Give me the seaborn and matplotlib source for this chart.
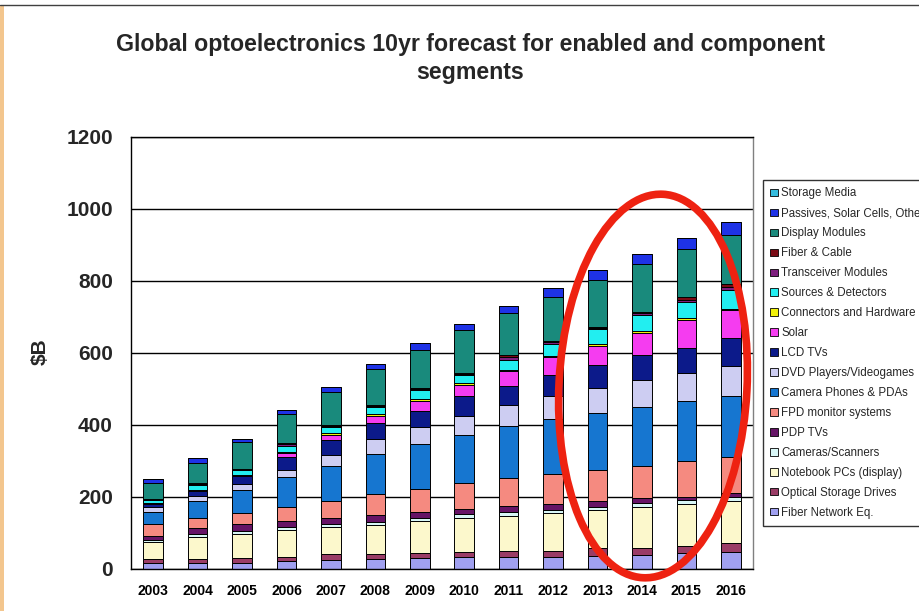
import pandas as pd
import numpy as np
import matplotlib
matplotlib.use("Agg")
import matplotlib.pyplot as plt
import seaborn as sns
from matplotlib.patches import Patch, Ellipse, Rectangle
from matplotlib.lines import Line2D

# ---- data ($B) ----
years = [str(y) for y in range(2003, 2017)]

storage_media       = [0, 0, 0, 0, 0, 0, 0, 0, 0, 0, 0, 0, 0, 0]
passives_other      = [10, 12, 7, 13, 14, 14, 18, 18, 19, 23, 26, 28, 30, 36]
display_modules     = [45, 56, 76, 81, 92, 100, 105, 118, 115, 123, 132, 134, 134, 135]
fiber_cable         = [1, 3, 1, 3, 2, 3, 3, 3, 7, 4, 3, 4, 7, 8]
transceiver_modules = [2, 3, 2, 3, 3, 3, 4, 3, 7, 5, 3, 5, 7, 9]
sources_detectors   = [7, 14, 14, 17, 18, 20, 26, 23, 28, 32, 40, 44, 45, 54]
connectors_hardware = [2, 1, 1, 4, 4, 4, 4, 5, 4, 3, 5, 5, 4, 3]
solar               = [2, 1, 1, 12, 16, 21, 28, 31, 42, 52, 55, 62, 79, 77]
lcd_tvs             = [9, 15, 24, 35, 40, 43, 44, 54, 53, 58, 62, 70, 68, 79]
dvd_videogames      = [12, 14, 15, 20, 30, 42, 48, 54, 58, 62, 70, 74, 78, 81]
camera_phones_pdas  = [34, 46, 64, 83, 99, 112, 126, 134, 145, 155, 158, 165, 167, 172]
fpd_monitors        = [33, 29, 31, 40, 46, 57, 62, 71, 78, 82, 88, 90, 100, 100]
pdp_tvs             = [11, 16, 21, 16, 17, 20, 18, 14, 15, 16, 16, 14, 9, 9]
cameras_scanners    = [7, 9, 8, 9, 9, 8, 9, 12, 11, 10, 9, 11, 12, 12]
notebook_pcs        = [46, 60, 66, 74, 76, 83, 88, 95, 99, 105, 106, 112, 116, 116]
optical_storage     = [11, 11, 13, 10, 14, 12, 14, 14, 17, 18, 21, 20, 21, 27]
fiber_network_eq    = [16, 16, 16, 22, 25, 27, 29, 31, 31, 31, 35, 38, 42, 45]

# legend order, top of the stack first
segments = [
    "Storage Media", "Passives, Solar Cells, Other", "Display Modules",
    "Fiber & Cable", "Transceiver Modules", "Sources & Detectors",
    "Connectors and Hardware", "Solar", "LCD TVs", "DVD Players/Videogames",
    "Camera Phones & PDAs", "FPD monitor systems", "PDP TVs",
    "Cameras/Scanners", "Notebook PCs (display)", "Optical Storage Drives",
    "Fiber Network Eq.",
]
series = [
    storage_media, passives_other, display_modules, fiber_cable,
    transceiver_modules, sources_detectors, connectors_hardware, solar,
    lcd_tvs, dvd_videogames, camera_phones_pdas, fpd_monitors, pdp_tvs,
    cameras_scanners, notebook_pcs, optical_storage, fiber_network_eq,
]
colors = [
    "#33BBDD", "#1E32E6", "#198A7C", "#7A0A14", "#7E1E7E", "#22EEF0",
    "#F2F20A", "#F53CF0", "#0C1A8A", "#CDCDF2", "#1676D0", "#F58A80",
    "#661466", "#D8F6F6", "#FCF8CC", "#9A3C66", "#A0A0F0",
]
palette = dict(zip(segments, colors))

df = pd.DataFrame(
    [(yr, seg, v) for seg, vals in zip(segments, series) for yr, v in zip(years, vals)],
    columns=["year", "segment", "value"],
)

sns.set_theme(style="white")
plt.rcParams["font.family"] = ["Liberation Sans", "DejaVu Sans"]

fig = plt.figure(figsize=(9.2, 6.11), dpi=100)
W, H = 920, 611
ax = fig.add_axes([131 / W, 1 - 568.5 / H, (753 - 131) / W, (568.5 - 137) / H])

sns.histplot(
    data=df, x="year", weights="value", hue="segment", hue_order=segments,
    multiple="stack", discrete=True, shrink=0.44, palette=palette,
    edgecolor="black", linewidth=0.7, alpha=1, legend=False, ax=ax,
)

ax.set_xlim(-0.5, len(years) - 0.5)
ax.set_ylim(0, 1200)
ax.set_yticks(range(0, 1201, 200))
ax.set_xticks(range(len(years)))
ax.set_xticklabels(years, fontsize=10, fontweight="bold")
ax.set_yticklabels([str(v) for v in range(0, 1201, 200)], fontsize=15, fontweight="bold")
ax.set_xticks(np.arange(-0.5, len(years)), minor=True)
ax.tick_params(axis="x", which="major", length=0, pad=11, colors="black")
ax.tick_params(axis="x", which="minor", length=5, width=1, direction="out", color="black")
ax.tick_params(axis="y", which="major", length=5, width=1, direction="out", pad=8, color="black")
ax.set_xlabel("")
ax.set_ylabel("")
ax.yaxis.grid(True, color="black", linewidth=1)
ax.set_axisbelow(True)
for side, sp in ax.spines.items():
    sp.set_visible(True)
    sp.set_linewidth(1)
    sp.set_color("black" if side in ("left", "bottom", "top") else "#808080")

fig.text(470 / W, 1 - 45 / H,
         "Global optoelectronics 10yr forecast for enabled and component",
         ha="center", va="center", fontsize=16.7, fontweight="bold")
fig.text(470 / W, 1 - 73 / H, "segments",
         ha="center", va="center", fontsize=16.7, fontweight="bold")
fig.text(40 / W, 1 - 352 / H, "$B", rotation=90, ha="center", va="center",
         fontsize=15, fontweight="bold")

handles = [Patch(facecolor=c, edgecolor="black", linewidth=0.6) for c in colors]
leg = fig.legend(
    handles, segments, loc="upper left", bbox_to_anchor=(763 / W, 1 - 180 / H),
    frameon=True, fancybox=False, edgecolor="black", fontsize=8.3,
    handlelength=0.62, handleheight=0.62, handletextpad=0.3, labelspacing=0.69,
    borderpad=0.65, borderaxespad=0,
)
leg.get_frame().set_linewidth(1)

# highlight around the later forecast years
ring = Ellipse((6.53, (H - 386) / 100), 1.88, 3.84, angle=-3,
               transform=fig.dpi_scale_trans, fill=False,
               edgecolor="#EE2211", linewidth=5.5, zorder=10)
fig.add_artist(ring)

# slide frame
fig.add_artist(Rectangle((0, 0), 4 / W, 606 / H, transform=fig.transFigure,
                         facecolor="#F3C68E", edgecolor="none"))
fig.add_artist(Line2D([0, 1], [1 - 5 / H, 1 - 5 / H], transform=fig.transFigure,
                      color="#404040", linewidth=1))

fig.savefig("out.png", dpi=100)
